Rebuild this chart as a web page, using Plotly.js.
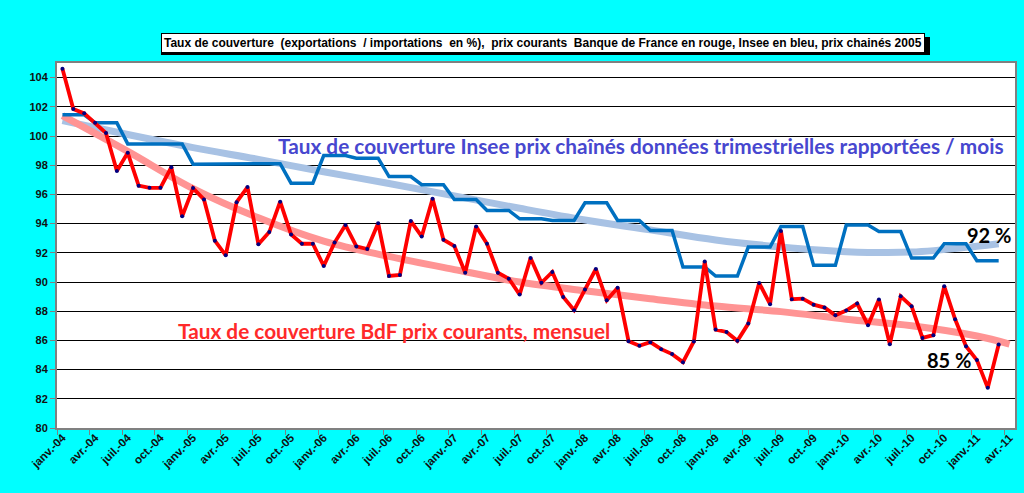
<!DOCTYPE html>
<html>
<head>
<meta charset="utf-8">
<script src="https://cdn.plot.ly/plotly-3.0.1.min.js"></script>
<style>html,body{margin:0;padding:0;background:#00FFFF;}#chart{width:1024px;height:493px;}</style>
</head>
<body>
<div id="chart"></div>
<script>
// month index 0 = janv.-04 ... 87 = avr.-11
const tickLabels = ["janv.-04","avr.-04","juil.-04","oct.-04","janv.-05","avr.-05","juil.-05","oct.-05",
  "janv.-06","avr.-06","juil.-06","oct.-06","janv.-07","avr.-07","juil.-07","oct.-07",
  "janv.-08","avr.-08","juil.-08","oct.-08","janv.-09","avr.-09","juil.-09","oct.-09",
  "janv.-10","avr.-10","juil.-10","oct.-10","janv.-11","avr.-11"];

// Banque de France, prix courants, mensuel (janv.-04 .. mars-11)
const bdfMonthly = [104.6,101.85,101.55,100.9,100.2,97.6,98.85,96.6,96.45,96.45,97.86,94.5,
  96.43,95.65,92.83,91.83,95.47,96.5,92.58,93.42,95.5,93.26,92.62,92.62,
  91.1,92.7,93.9,92.44,92.26,94.03,90.41,90.48,94.17,93.12,95.7,92.9,
  92.46,90.64,93.8,92.62,90.64,90.23,89.14,91.64,89.95,90.69,88.98,88.07,
  89.48,90.89,88.75,89.61,85.95,85.63,85.88,85.4,85.06,84.51,85.93,91.4,
  86.74,86.58,85.97,87.15,89.93,88.48,93.49,88.82,88.86,88.45,88.25,87.72,
  88.04,88.52,87.04,88.8,85.74,89.02,88.34,86.17,86.36,89.71,87.45,85.6,
  84.65,82.75,85.72];

// Insee, prix chaînés, données trimestrielles rapportées / mois (janv.-04 .. mars-11)
const inseeMonthly = [101.45,101.45,101.45,100.9,100.9,100.9,99.46,99.46,99.46,99.46,99.46,99.46,
  98.07,98.07,98.07,98.07,98.07,98.07,98.1,98.1,98.1,96.77,96.77,96.77,
  98.66,98.66,98.66,98.48,98.48,98.48,97.22,97.22,97.22,96.66,96.66,96.66,
  95.65,95.65,95.65,94.9,94.9,94.9,94.33,94.33,94.33,94.22,94.22,94.22,
  95.42,95.42,95.42,94.22,94.22,94.22,93.53,93.53,93.53,91.03,91.03,91.03,
  90.41,90.41,90.41,92.39,92.39,92.39,93.8,93.8,93.8,91.14,91.14,91.14,
  93.9,93.9,93.9,93.46,93.46,93.46,91.64,91.64,91.64,92.62,92.62,92.62,
  91.46,91.46,91.46];

// trend curves
const bdfTrendX = [0,6,12,18,24,30,36,42,48,54,60,66,72,78,84,87];
const bdfTrendY = [101.4,98.95,96.4,94.4,92.8,91.75,90.85,90.0,89.4,88.85,88.35,87.97,87.45,87.0,86.3,85.75];
const inseeTrendX = [0,6,12,18,24,30,36,42,48,54,60,66,72,78,84,86];
const inseeTrendY = [101.05,100.1,99.2,98.4,97.55,96.75,95.9,95.05,94.25,93.57,92.88,92.4,92.08,92.05,92.45,92.62];

const months = bdfMonthly.map((_, i) => i);
const labelPos = tickLabels.map((_, i) => i * 3);
const tickMarkPos = tickLabels.map((_, i) => i * 3 - 0.5);

const traces = [
  {x: inseeTrendX, y: inseeTrendY, type: 'scatter', mode: 'lines',
   line: {color: '#A8C2E4', width: 7, shape: 'spline'}, hoverinfo: 'skip'},
  {x: bdfTrendX, y: bdfTrendY, type: 'scatter', mode: 'lines',
   line: {color: '#FF9494', width: 7, shape: 'spline'}, hoverinfo: 'skip'},
  {x: months, y: inseeMonthly, type: 'scatter', mode: 'lines',
   line: {color: '#0070C0', width: 3.5}},
  {x: months, y: bdfMonthly, type: 'scatter', mode: 'lines+markers',
   line: {color: '#FF0000', width: 3.8}, marker: {color: '#000080', size: 4}},
  {x: [0], y: [80], xaxis: 'x2', type: 'scatter', mode: 'markers', marker: {opacity: 0}, hoverinfo: 'skip'}
];

const tickFont = {family: 'Liberation Sans, Arial, sans-serif', size: 11, color: '#111', weight: 'bold'};
const pw = 958, ph = 365, L = 57, B = 428;
const px = X => (X - L) / pw;
const py = Y => (B - Y) / ph;

const titleText = 'Taux de couverture\u00A0 (exportations\u00A0 / importations\u00A0 en %),\u00A0 prix courants\u00A0 Banque de France en rouge, Insee en bleu, prix chainés 2005';
const titleFont = {family: 'Liberation Sans, Arial, sans-serif', size: 12, color: '#000', weight: 'bold'};

const layout = {
  width: 1024, height: 493,
  margin: {l: 57, r: 9, t: 63, b: 65},
  paper_bgcolor: '#00FFFF', plot_bgcolor: '#FFFFFF',
  showlegend: false,
  xaxis: {range: [-0.5, 87.5], tickmode: 'array', tickvals: tickMarkPos, ticktext: tickLabels.map(() => ''),
    ticks: 'outside', ticklen: 5, tickcolor: '#808080', tickwidth: 1, showgrid: false, zeroline: false,
    showline: true, linecolor: '#808080', linewidth: 2, mirror: true, fixedrange: true},
  xaxis2: {range: [-0.5, 87.5], overlaying: 'x', anchor: 'y', side: 'bottom', tickmode: 'array',
    tickvals: labelPos, ticktext: tickLabels, tickangle: -45, ticks: '', showgrid: false, zeroline: false,
    showline: false, tickfont: {family: 'Liberation Sans, Arial, sans-serif', size: 11.5, color: '#111', weight: 'bold'}},
  yaxis: {range: [80, 105], tick0: 80, dtick: 2, ticks: 'outside', ticklen: 5, tickcolor: '#808080',
    showgrid: true, gridcolor: '#000000', gridwidth: 1, zeroline: false,
    showline: true, linecolor: '#808080', linewidth: 2, mirror: true, tickfont: tickFont},
  shapes: [
    {type: 'rect', xref: 'paper', yref: 'paper', x0: px(161), x1: px(930), y0: py(55), y1: py(37),
     fillcolor: '#000000', line: {width: 0}, layer: 'below'}
  ],
  annotations: [
    {xref: 'paper', yref: 'paper', x: px(542.5), y: py(43), xanchor: 'center', yanchor: 'middle',
     showarrow: false, text: titleText, font: titleFont,
     bgcolor: '#FFFFFF', bordercolor: '#000000', borderwidth: 1, borderpad: 2},
    {xref: 'paper', yref: 'paper', x: px(641), y: py(145), xanchor: 'center', yanchor: 'middle', showarrow: false,
     text: 'Taux de couverture Insee prix chaînés données trimestrielles rapportées / mois',
     font: {family: 'Lato, sans-serif', size: 20.8, color: '#4747CF', weight: 'bold'}},
    {xref: 'paper', yref: 'paper', x: px(394), y: py(330), xanchor: 'center', yanchor: 'middle', showarrow: false,
     text: 'Taux de couverture BdF prix courants, mensuel',
     font: {family: 'Lato, sans-serif', size: 20.8, color: '#FF2A2A', weight: 'bold'}},
    {xref: 'paper', yref: 'paper', x: px(989), y: py(235), xanchor: 'center', yanchor: 'middle', showarrow: false,
     text: '92 %', font: {family: 'Lato, sans-serif', size: 20, color: '#000', weight: 'bold'}},
    {xref: 'paper', yref: 'paper', x: px(949), y: py(360), xanchor: 'center', yanchor: 'middle', showarrow: false,
     text: '85 %', font: {family: 'Lato, sans-serif', size: 20, color: '#000', weight: 'bold'}}
  ]
};

Plotly.newPlot('chart', traces, layout, {staticPlot: true, displayModeBar: false});
</script>
</body>
</html>
